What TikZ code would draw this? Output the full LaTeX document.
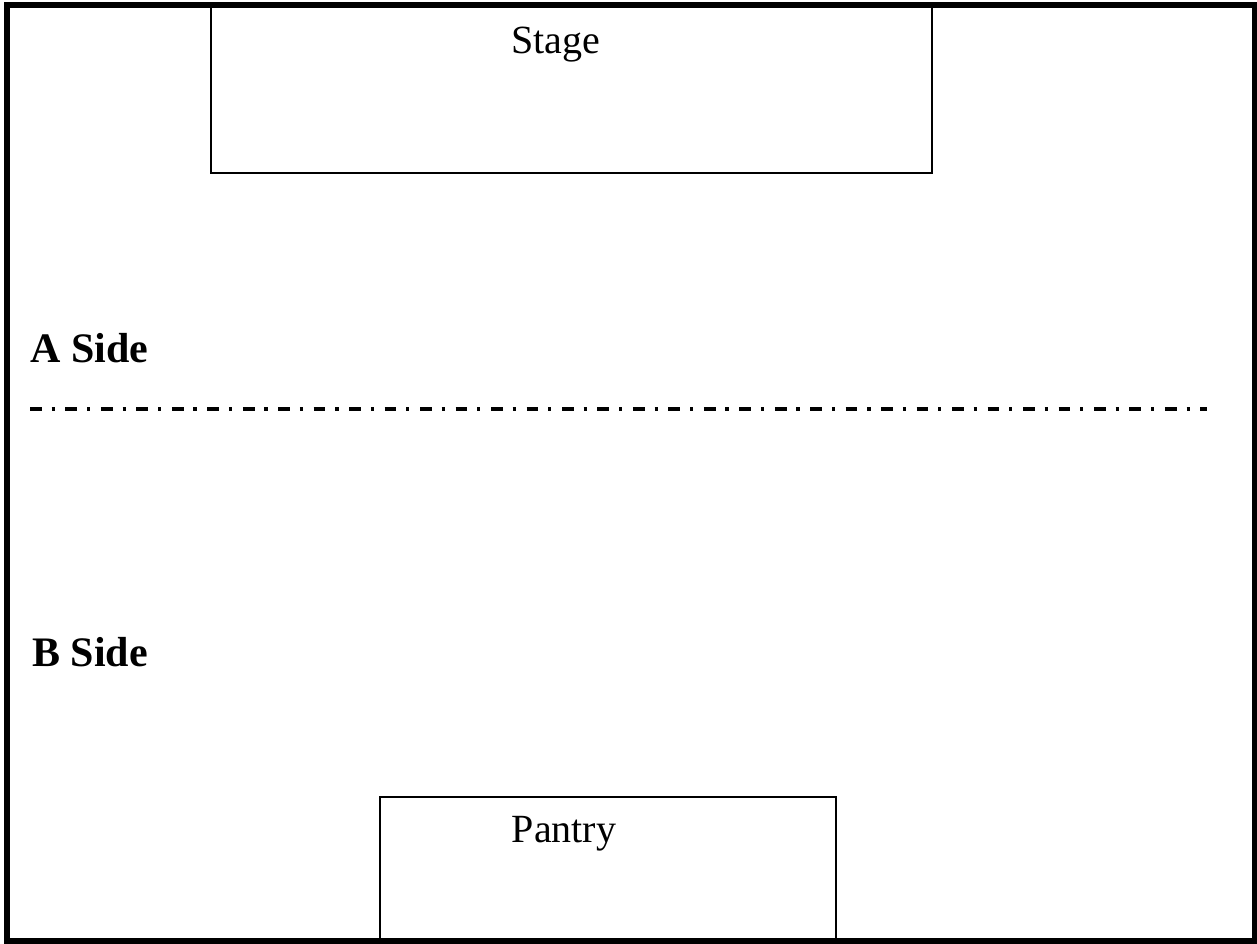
\documentclass[tikz,border=0pt]{standalone}
\usepackage{fontspec}
\setmainfont{Liberation Serif}
\begin{document}
\begin{tikzpicture}[x=0.75pt,y=-0.75pt,
  room/.style={line width=4.5pt},
  area/.style={line width=1.5pt},
  divider/.style={line width=2.8pt, line cap=butt, dash pattern=on 8.8pt off 7.4pt on 2.4pt off 8pt},
  lbl/.style={font=\fontsize{30}{36}\selectfont, inner sep=0pt, anchor=base},
  sidelbl/.style={font=\fontsize{31.5}{38}\selectfont\bfseries, inner sep=0pt, anchor=base west}]
\useasboundingbox (0,0) rectangle (1257,944);
\fill[white] (0,0) rectangle (1257,944);
% stage and pantry
\draw[area] (211,5.5) rectangle (932,173);
\draw[area] (380,797) rectangle (836,940.5);
\node[lbl] (stage) at (555.5,54) {Stage};
\node[lbl] (pantry) at (564,842) {Pantry};
% side labels
\node[sidelbl] (aside) at (30,363) {A Side};
\node[sidelbl] (bside) at (32,667) {B Side};
% divider
\coordinate (d1) at (30,409);
\coordinate (d2) at (1207,409);
\draw[divider] (d1) -- (d2);
% room outline
\draw[room] (7,5.5) rectangle (1254.5,940.5);
\end{tikzpicture}
\end{document}
